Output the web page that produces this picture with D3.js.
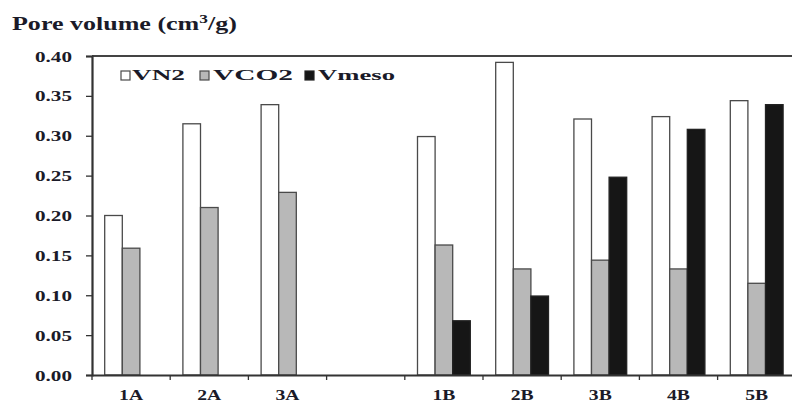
<!DOCTYPE html>
<html><head><meta charset="utf-8">
<script src="https://cdn.jsdelivr.net/npm/d3@7"></script>
<style>body{margin:0;background:#fff}svg{display:block}text{font-family:"Liberation Serif","Times New Roman",serif;font-weight:bold;fill:#1a1a28}</style>
</head><body><svg id="c" width="792" height="403"></svg>
<script>
const categories = ["1A","2A","3A","","1B","2B","3B","4B","5B"];
const seriesNames = ["VN2","VCO2","Vmeso"];
const VN2   = [0.200,0.315,0.339,null,0.299,0.392,0.321,0.324,0.344];
const VCO2  = [0.159,0.210,0.229,null,0.163,0.133,0.144,0.133,0.115];
const Vmeso = [null,null,null,null,0.068,0.099,0.248,0.308,0.339];
const yTicks = [0,0.05,0.10,0.15,0.20,0.25,0.30,0.35,0.40];
const fills = ["#ffffff","#b8b8b8","#161616"];
const strokes = ["#4a4a4a","#4a4a4a","#222"];

(function(){
const svg = d3.select("#c");
const mLeft = 92, mTop = 56, mBottom = 375, bandW = 78.2;
const x = d3.scaleBand().domain(categories.map((c,i)=>i)).range([mLeft, mLeft + bandW*categories.length]).padding(0);
const y = d3.scaleLinear().domain([0,0.4]).range([mBottom, mTop]);
const barW = 17.6;
const inner = d3.scaleBand().domain([0,1,2]).range([0, barW*3]);
const offset = (bandW - barW*3)/2;

// horizontal stretch helper (reference text is wide)
function stretch(sel, k){
  sel.each(function(){
    const el = d3.select(this);
    const x0 = +el.attr("x") || 0;
    const prev = el.attr("transform") || "";
    el.attr("transform", `${prev} translate(${x0},0) scale(${k},1) translate(${-x0},0)`);
  });
}

svg.append("line").attr("x1",mLeft).attr("x2",792).attr("y1",mTop).attr("y2",mTop).attr("stroke","#444").attr("stroke-width",2);

const data = [VN2, VCO2, Vmeso];
data.forEach((arr, s) => {
  svg.append("g").selectAll("rect").data(arr.map((v,i)=>({v,i})).filter(d=>d.v!=null))
    .join("rect")
    .attr("x", d => x(d.i) + offset + inner(s))
    .attr("y", d => y(d.v))
    .attr("width", barW)
    .attr("height", d => mBottom - y(d.v))
    .attr("fill", fills[s]).attr("stroke", strokes[s]).attr("stroke-width",1.3);
});

const ya = svg.append("g").attr("transform",`translate(${mLeft},0)`)
  .call(d3.axisLeft(y).tickValues(yTicks).tickFormat(d3.format(".2f")).tickSize(6).tickPadding(14));
ya.select(".domain").attr("stroke","#333").attr("stroke-width",2.2);
ya.selectAll(".tick line").attr("stroke","#333").attr("stroke-width",1.3);
const yt = ya.selectAll("text").style("font-size","14px").attr("fill","#1a1a28").attr("dy","0.36em");
{
  const w = yt.node().getComputedTextLength();
  stretch(yt, 37 / w);
}

const xa = svg.append("g").attr("transform",`translate(0,${mBottom})`)
  .call(d3.axisBottom(x).tickSize(0).tickFormat(i=>categories[i]).tickPadding(0));
xa.select(".domain").attr("stroke","#333").attr("stroke-width",2);
const xt = xa.selectAll("text").style("font-size","14px").attr("fill","#1a1a28").attr("dy",0).attr("y",25);
{
  const w = xt.node().getComputedTextLength();
  stretch(xt, 24 / w);
}
svg.append("g").selectAll("line").data(d3.range(categories.length+1))
  .join("line").attr("x1",i=>mLeft+i*bandW).attr("x2",i=>mLeft+i*bandW)
  .attr("y1",mBottom).attr("y2",mBottom+5).attr("stroke","#333").attr("stroke-width",1.3);

const t = svg.append("text").attr("x",12).attr("y",30).style("font-size","18px");
t.append("tspan").text("Pore volume (cm");
t.append("tspan").text("3").attr("dy",-7).style("font-size","12px");
t.append("tspan").text("/g)").attr("dy",7);
stretch(t, 225 / t.node().getComputedTextLength());

const legX = [121, 200, 305];
const legTextX = [132, 213, 318];
const legW = [53, 80, 77];
seriesNames.forEach((n,i)=>{
  svg.append("rect").attr("x",legX[i]).attr("y",71).attr("width",9).attr("height",9)
    .attr("fill",fills[i]).attr("stroke",strokes[i]).attr("stroke-width",1.2);
  const lt = svg.append("text").attr("x",legTextX[i]).attr("y",80.5).style("font-size","14px").text(n);
  stretch(lt, legW[i] / lt.node().getComputedTextLength());
});
})();
</script></body></html>
